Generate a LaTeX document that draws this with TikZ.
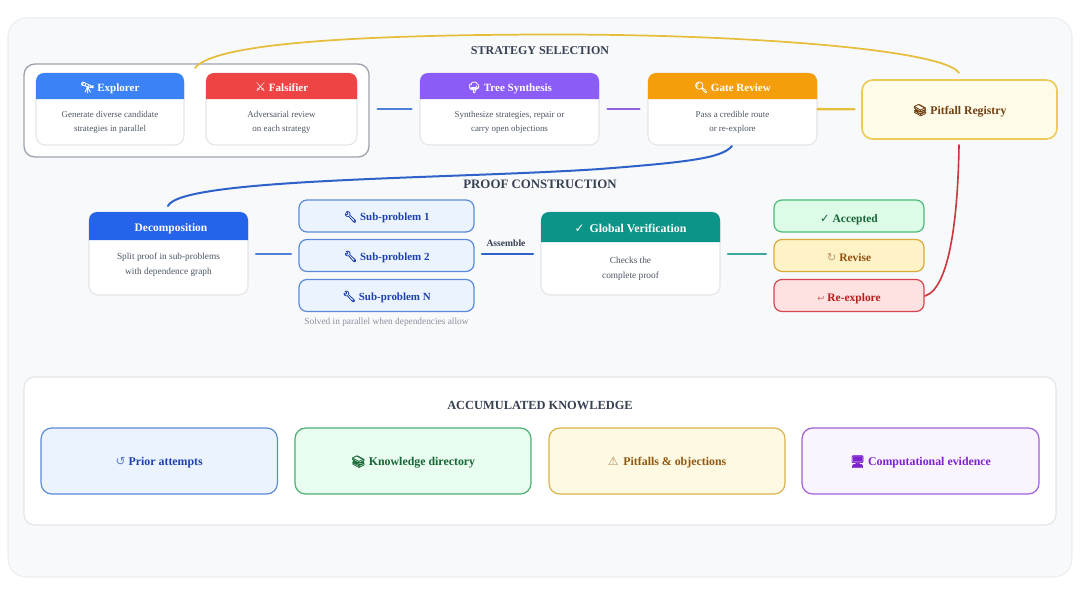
\documentclass[tikz,border=0pt]{standalone}
\usepackage{fontspec}
\setmainfont{Liberation Serif}
\newfontfamily\emojifont[FakeBold=1.5]{Noto Emoji}
\newfontfamily\symfont{DejaVu Sans}
\begin{document}
\begin{tikzpicture}[x=0.75pt,y=-0.75pt,line cap=round,
  cardbody/.style={draw=cardedge,fill=white,line width=0.8pt,rounded corners=7pt,inner sep=0pt},
  cardhead/.style={font=\bfseries\fontsize{8.3}{10}\selectfont,text=white,inner sep=0pt,text height=8pt,text depth=1pt},
  cardtext/.style={font=\fontsize{6.7}{10.5}\selectfont,text=bodygray,align=center,inner sep=0pt},
  sectitle/.style={font=\bfseries\fontsize{#1}{11}\selectfont,text=titlegray,inner sep=0pt},
  pill/.style={draw=#1edge,fill=#1fill,text=#1text,line width=0.9pt,rounded corners=6pt,inner sep=0pt,text height=8pt,text depth=1pt,font=\bfseries\fontsize{8.2}{10}\selectfont},
  statuspill/.style={pill=#1,text height=9pt,text depth=0pt,font=\bfseries\fontsize{8.6}{10}\selectfont},
  bigcard/.style={draw=#1edge,fill=#1fill,text=#1text,line width=0.9pt,rounded corners=8pt,inner sep=0pt,text height=8pt,text depth=1pt,font=\bfseries\fontsize{8.9}{10}\selectfont},
  link/.style={line width=1.8pt,shorten <=#1,shorten >=#1}]
\definecolor{cardedge}{HTML}{E2E5EA}
\definecolor{paneledge}{HTML}{ECEEF2}
\definecolor{panelfill}{HTML}{F8F9FB}
\definecolor{groupedge}{HTML}{9CA3AF}
\definecolor{bodygray}{HTML}{4B5563}
\definecolor{notegray}{HTML}{8A919C}
\definecolor{titlegray}{HTML}{374151}
\definecolor{blueedge}{HTML}{5B8BD8}
\definecolor{bluefill}{HTML}{EBF4FE}
\definecolor{bluetext}{HTML}{1E40AF}
\definecolor{greenedge}{HTML}{4CAF74}
\definecolor{greenfill}{HTML}{E8FCEF}
\definecolor{greentext}{HTML}{166534}
\definecolor{amberedge}{HTML}{D9B44A}
\definecolor{amberfill}{HTML}{FEF9E3}
\definecolor{ambertext}{HTML}{92570F}
\definecolor{violetedge}{HTML}{A15FD8}
\definecolor{violetfill}{HTML}{FAF4FF}
\definecolor{violettext}{HTML}{7E22CE}
\definecolor{okedge}{HTML}{4CBB78}
\definecolor{okfill}{HTML}{DCFCE7}
\definecolor{oktext}{HTML}{166534}
\definecolor{reviseedge}{HTML}{DBA93A}
\definecolor{revisefill}{HTML}{FEF3C7}
\definecolor{revisetext}{HTML}{92500F}
\definecolor{redoedge}{HTML}{D64550}
\definecolor{redofill}{HTML}{FEE2E2}
\definecolor{redotext}{HTML}{B91C1C}
\definecolor{registryedge}{HTML}{EBCB55}
\definecolor{registryfill}{HTML}{FEFBE8}
\definecolor{registrytext}{HTML}{713F12}
\definecolor{headblue}{HTML}{3B82F6}
\definecolor{headred}{HTML}{EF4444}
\definecolor{headviolet}{HTML}{8B5CF6}
\definecolor{headamber}{HTML}{F59E0B}
\definecolor{headdeep}{HTML}{2563EB}
\definecolor{headteal}{HTML}{0D9488}
\definecolor{linkblue}{HTML}{4F80D8}
\definecolor{linkviolet}{HTML}{9062DC}
\definecolor{linkgold}{HTML}{E6BE3C}
\definecolor{linkdeep}{HTML}{2F62C8}
\definecolor{linkteal}{HTML}{3AA79C}
\definecolor{linkred}{HTML}{C8383C}
\useasboundingbox (0,0) rectangle (1080,589);
\fill[white] (0,0) rectangle (1080,589);
\draw[draw=paneledge,fill=panelfill,line width=0.8pt,rounded corners=14pt] (8,18) rectangle (1072,577);
\draw[draw=cardedge,fill=white,line width=0.9pt,rounded corners=8pt] (24,377) rectangle (1056,525);
% strategy selection
\node[sectitle=9.0] (stratlabel) at (540,50.5) {STRATEGY SELECTION};
\node[draw=groupedge,fill=white,line width=1pt,rounded corners=8pt,minimum width=258.7pt,minimum height=69.7pt] (group) at (196.5,110.5) {};
\node[cardbody,minimum width=111pt,minimum height=54pt] (explorer) at (110,109) {};
\fill[headblue] (36,99) {[rounded corners=6pt] -- (36,73) -- (184,73)} -- (184,99) -- cycle;
\node[cardhead] (explorerhead) at (110,86.5) {{\emojifont 🔭} Explorer};
\node[cardtext] (explorertext) at (110,122) {Generate diverse candidate\\strategies in parallel};
\node[cardbody,minimum width=113.25pt,minimum height=54pt] (falsifier) at (281.5,109) {};
\fill[headred] (206,99) {[rounded corners=6pt] -- (206,73) -- (357,73)} -- (357,99) -- cycle;
\node[cardhead] (falsifierhead) at (281.5,86.5) {{\symfont\mdseries\fontsize{9.5}{10}\selectfont ⚔} Falsifier};
\node[cardtext] (falsifiertext) at (281.5,122) {Adversarial review\\on each strategy};
\node[cardbody,minimum width=134.25pt,minimum height=54pt] (tree) at (509.5,109) {};
\fill[headviolet] (420,99) {[rounded corners=6pt] -- (420,73) -- (599,73)} -- (599,99) -- cycle;
\node[cardhead] (treehead) at (509.5,86.5) {{\emojifont 🌳} Tree Synthesis};
\node[cardtext] (treetext) at (509.5,122) {Synthesize strategies, repair or\\carry open objections};
\node[cardbody,minimum width=126.75pt,minimum height=54pt] (gate) at (732.5,109) {};
\fill[headamber] (648,99) {[rounded corners=6pt] -- (648,73) -- (817,73)} -- (817,99) -- cycle;
\node[cardhead] (gatehead) at (732.5,86.5) {{\emojifont 🔍} Gate Review};
\node[cardtext] (gatetext) at (732.5,122) {Pass a credible route\\or re-explore};
\node[draw=registryedge,fill=registryfill,text=registrytext,line width=1.2pt,rounded corners=8pt,minimum width=146.25pt,minimum height=44.25pt,text height=8pt,text depth=1pt,font=\bfseries\fontsize{8.8}{10}\selectfont] (registry) at (959.5,109.5) {{\emojifont 📚} Pitfall Registry};
\draw[link=6pt,linkblue] (group.east |- tree.west) -- (tree.west);
\draw[link=6pt,linkviolet] (tree) -- (gate);
\draw[link=0pt,linkgold,shorten >=5pt] (gate) -- (registry);
\coordinate (loopstart) at (959,73);
\coordinate (loopend) at (195,68);
\draw[linkgold,line width=1.3pt] (loopstart) .. controls (945,50) and (750,34) .. (545,34.5) .. controls (370,35) and (215,42) .. (loopend);
% proof construction
\node[sectitle=9.65] (prooflabel) at (540,184) {PROOF CONSTRUCTION};
\node[cardbody,minimum width=119.25pt,minimum height=62.25pt] (decomp) at (168.5,253.5) {};
\fill[headdeep] (89,240) {[rounded corners=6pt] -- (89,212) -- (248,212)} -- (248,240) -- cycle;
\node[cardhead,font=\bfseries\fontsize{8.6}{10}\selectfont] (decomphead) at (171,227) {Decomposition};
\node[cardtext,font=\fontsize{7}{11.6}\selectfont] (decomptext) at (168.5,264.5) {Split proof in sub-problems\\with dependence graph};
\node[pill=blue,minimum width=131.25pt,minimum height=24pt] (subone) at (386.5,216) {{\emojifont 🔧} Sub-problem 1};
\node[pill=blue,minimum width=131.25pt,minimum height=24pt] (subtwo) at (386.5,255.5) {{\emojifont 🔧} Sub-problem 2};
\node[pill=blue,minimum width=131.25pt,minimum height=24pt] (subn) at (386.5,295.5) {{\emojifont 🔧} Sub-problem N};
\node[font=\fontsize{7}{8}\selectfont,text=notegray,inner sep=0pt] (subnote) at (386.5,322) {Solved in parallel when dependencies allow};
\node[cardbody,minimum width=134.25pt,minimum height=62.25pt] (verify) at (630.5,253.5) {};
\fill[headteal] (541,242) {[rounded corners=6pt] -- (541,212) -- (720,212)} -- (720,242) -- cycle;
\node[cardhead,font=\bfseries\fontsize{8.9}{10}\selectfont] (verifyhead) at (630.5,227.5) {{\symfont\mdseries ✓}\, Global Verification};
\node[cardtext,font=\fontsize{7}{11.6}\selectfont] (verifytext) at (630.5,269) {Checks the\\complete proof};
\node[statuspill=ok,minimum width=112.5pt,minimum height=24pt] (accepted) at (849,216) {{\symfont ✓} Accepted};
\node[statuspill=revise,minimum width=112.5pt,minimum height=24pt] (revise) at (849,255.5) {{\symfont\mdseries\color{revisetext!60} ↻} Revise};
\node[statuspill=redo,minimum width=112.5pt,minimum height=24pt] (reexplore) at (849,295.5) {{\symfont\mdseries\color{redotext!70}\fontsize{6.5}{8}\selectfont ↩} Re-explore};
\coordinate (decompout) at (248,254);
\coordinate (subin) at (299,254);
\coordinate (subout) at (474,254);
\coordinate (verifyin) at (541,254);
\coordinate (verifyout) at (720,254);
\coordinate (resultin) at (774,254);
\draw[link=6pt,linkblue] (decompout) -- (subin);
\draw[link=6pt,linkdeep] (subout) -- (verifyin);
\node[font=\bfseries\fontsize{7.2}{8}\selectfont,text=titlegray,inner sep=0pt] (assemble) at (506,243) {Assemble};
\draw[link=6pt,linkteal] (verifyout) -- (resultin);
\coordinate (gateout) at (732,146);
\coordinate (decompin) at (168,206);
\draw[linkdeep,line width=1.5pt] (gateout) .. controls (722,158) and (690,162) .. (600,169) .. controls (450,179) and (180,178) .. (decompin);
\coordinate (registryout) at (959,145);
\coordinate (reexploreout) at (925,296);
\draw[linkred,line width=1.2pt] (registryout) .. controls (958,215) and (950,288) .. (reexploreout);
% accumulated knowledge
\node[sectitle=9.3] (knowlabel) at (540,405) {ACCUMULATED KNOWLEDGE};
\node[bigcard=blue,minimum width=177.25pt,minimum height=49.5pt] (prior) at (159.25,461) {{\symfont\mdseries\color{bluetext!70} ↺} Prior attempts};
\node[bigcard=green,minimum width=177pt,minimum height=49.5pt] (directory) at (413,461) {{\emojifont 📚} Knowledge directory};
\node[bigcard=amber,minimum width=177pt,minimum height=49.5pt] (pitfalls) at (667,461) {{\symfont\mdseries\color{ambertext!70} ⚠}\, Pitfalls \& objections};
\node[bigcard=violet,minimum width=177.75pt,minimum height=49.5pt] (evidence) at (920.5,461) {{\emojifont 🖥} Computational evidence};
\end{tikzpicture}
\end{document}
